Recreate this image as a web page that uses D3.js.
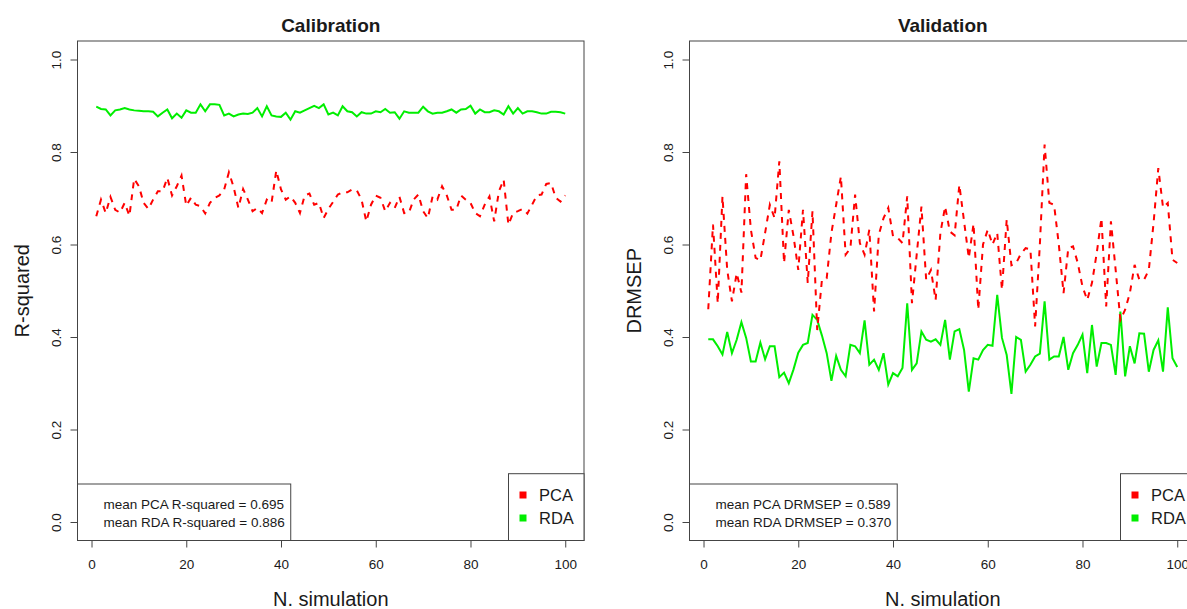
<!DOCTYPE html>
<html>
<head>
<meta charset="utf-8">
<script src="https://cdn.jsdelivr.net/npm/d3@7"></script>
<style>
  body { margin: 0; background: #fff; }
  text { font-family: "Liberation Sans", Arial, sans-serif; fill: #1a1a1a; }
</style>
</head>
<body>
<svg id="chart" width="1187" height="609"></svg>
<script>
// simulation index 1..100
var sims = d3.range(1, 101);

// calibration R-squared
var calPCA = [0.661,0.697,0.668,0.703,0.675,0.669,0.690,0.662,0.742,0.726,
              0.690,0.677,0.697,0.715,0.715,0.744,0.706,0.726,0.749,0.684,
              0.701,0.686,0.683,0.667,0.690,0.701,0.706,0.719,0.756,0.724,
              0.679,0.720,0.697,0.672,0.679,0.668,0.697,0.690,0.760,0.719,
              0.697,0.704,0.690,0.668,0.706,0.710,0.686,0.690,0.657,0.677,
              0.692,0.708,0.713,0.713,0.719,0.717,0.697,0.650,0.686,0.706,
              0.701,0.672,0.690,0.679,0.703,0.668,0.669,0.697,0.708,0.672,
              0.657,0.704,0.697,0.726,0.706,0.675,0.675,0.706,0.697,0.690,
              0.668,0.661,0.686,0.704,0.650,0.715,0.740,0.643,0.668,0.672,
              0.677,0.667,0.686,0.706,0.708,0.731,0.733,0.701,0.693,0.706];
var calRDA = [0.898,0.893,0.892,0.879,0.890,0.892,0.895,0.892,0.890,0.889,
              0.888,0.888,0.887,0.877,0.885,0.892,0.873,0.883,0.874,0.890,
              0.885,0.885,0.903,0.888,0.903,0.903,0.902,0.879,0.883,0.877,
              0.881,0.883,0.882,0.885,0.895,0.877,0.899,0.879,0.877,0.876,
              0.885,0.870,0.888,0.885,0.890,0.895,0.900,0.895,0.903,0.881,
              0.885,0.879,0.899,0.888,0.886,0.877,0.886,0.883,0.883,0.888,
              0.886,0.893,0.885,0.886,0.872,0.888,0.885,0.885,0.885,0.898,
              0.888,0.883,0.885,0.885,0.888,0.892,0.885,0.892,0.893,0.900,
              0.883,0.892,0.886,0.886,0.890,0.888,0.881,0.899,0.883,0.895,
              0.883,0.888,0.888,0.886,0.883,0.883,0.887,0.887,0.886,0.883];

// validation DRMSEP
var valPCA = [0.460,0.643,0.473,0.704,0.545,0.477,0.538,0.496,0.752,0.632,
              0.571,0.566,0.625,0.686,0.657,0.780,0.560,0.675,0.618,0.545,
              0.675,0.517,0.672,0.415,0.524,0.527,0.625,0.686,0.747,0.578,
              0.592,0.708,0.603,0.578,0.632,0.455,0.621,0.657,0.679,0.618,
              0.614,0.603,0.704,0.473,0.578,0.682,0.524,0.545,0.480,0.625,
              0.682,0.628,0.620,0.729,0.650,0.571,0.645,0.459,0.600,0.632,
              0.600,0.625,0.502,0.654,0.555,0.560,0.580,0.592,0.590,0.423,
              0.600,0.816,0.690,0.686,0.600,0.495,0.592,0.596,0.560,0.509,
              0.480,0.517,0.581,0.657,0.466,0.650,0.545,0.437,0.459,0.495,
              0.556,0.524,0.524,0.545,0.646,0.765,0.680,0.690,0.567,0.560];
var valRDA = [0.395,0.395,0.380,0.362,0.411,0.365,0.394,0.432,0.398,0.347,
              0.347,0.388,0.352,0.380,0.380,0.313,0.323,0.300,0.330,0.366,
              0.383,0.387,0.448,0.437,0.403,0.365,0.305,0.359,0.329,0.315,
              0.383,0.380,0.365,0.436,0.340,0.351,0.329,0.365,0.297,0.322,
              0.315,0.333,0.473,0.329,0.343,0.412,0.394,0.390,0.395,0.383,
              0.437,0.351,0.412,0.417,0.372,0.282,0.354,0.351,0.372,0.383,
              0.381,0.491,0.398,0.361,0.277,0.400,0.394,0.325,0.340,0.358,
              0.364,0.477,0.351,0.358,0.358,0.400,0.329,0.365,0.383,0.405,
              0.322,0.426,0.336,0.387,0.387,0.383,0.318,0.455,0.315,0.380,
              0.343,0.408,0.407,0.325,0.372,0.393,0.325,0.464,0.354,0.335];

var xTicks = [0, 20, 40, 60, 80, 100];
var yTicks = [0, 0.2, 0.4, 0.6, 0.8, 1.0];
var seriesNames = ["PCA", "RDA"];
var seriesColors = ["#ff0000", "#00ee00"];

var panels = [
  { title: "Calibration", ylab: "R-squared", pca: calPCA, rda: calRDA, left: 77.5,
    notes: ["mean PCA R-squared = 0.695", "mean RDA R-squared = 0.886"] },
  { title: "Validation", ylab: "DRMSEP", pca: valPCA, rda: valRDA, left: 689.5,
    notes: ["mean PCA DRMSEP = 0.589", "mean RDA DRMSEP = 0.370"] }
];

var dims = { width: 506.5, top: 41, bottom: 540.5 };
var svg = d3.select("#chart");

panels.forEach(function(p) {
  var g = svg.append("g");

  var xScale = d3.scaleLinear()
                 .domain([-2.96, 103.96])
                 .range([p.left, p.left + dims.width]);
  var yScale = d3.scaleLinear()
                 .domain([-0.04, 1.04])
                 .range([dims.bottom, dims.top]);

  var line = d3.line()
               .x((d, i) => xScale(sims[i]))
               .y(d => yScale(d));

  g.append("path")
   .attr("d", line(p.rda))
   .attr("fill", "none")
   .attr("stroke", seriesColors[1])
   .attr("stroke-width", 2);

  g.append("path")
   .attr("d", line(p.pca))
   .attr("fill", "none")
   .attr("stroke", seriesColors[0])
   .attr("stroke-width", 2)
   .attr("stroke-dasharray", "6,6");

  // axes
  var xAxis = g.append("g")
               .attr("transform", `translate(0,${dims.bottom})`)
               .call(d3.axisBottom(xScale).tickValues(xTicks).tickSize(7).tickPadding(12).tickSizeOuter(0));
  var yAxis = g.append("g")
               .attr("transform", `translate(${p.left},0)`)
               .call(d3.axisLeft(yScale).tickValues(yTicks).tickSize(7).tickFormat(d3.format(".1f")).tickSizeOuter(0));

  [xAxis, yAxis].forEach(a => {
    a.select(".domain").remove();
    a.selectAll("line").attr("stroke", "#444");
    a.selectAll("text").style("font-size", "13.5px").attr("fill", "#1a1a1a");
  });
  yAxis.selectAll("text")
       .attr("x", null).attr("dy", null)
       .attr("text-anchor", "middle")
       .attr("transform", "translate(-17,0) rotate(-90)");

  // plot frame
  g.append("rect")
   .attr("x", p.left).attr("y", dims.top)
   .attr("width", dims.width).attr("height", dims.bottom - dims.top)
   .attr("fill", "none").attr("stroke", "#444");

  // titles
  g.append("text")
   .attr("x", p.left + dims.width / 2).attr("y", 32)
   .attr("text-anchor", "middle")
   .style("font-size", "19px").style("font-weight", "bold")
   .text(p.title);
  g.append("text")
   .attr("x", p.left + dims.width / 2).attr("y", 606)
   .attr("text-anchor", "middle")
   .style("font-size", "20px")
   .text("N. simulation");
  g.append("text")
   .attr("transform", `translate(${p.left - 49},${(dims.top + dims.bottom) / 2}) rotate(-90)`)
   .attr("text-anchor", "middle")
   .style("font-size", "20px")
   .text(p.ylab);

  // mean text box
  var noteBox = g.append("rect")
                 .attr("x", p.left).attr("y", 484)
                 .attr("height", dims.bottom - 484)
                 .attr("fill", "#fff").attr("stroke", "#444");
  var noteEnd = 0;
  p.notes.forEach(function(t, i) {
    var tx = g.append("text")
              .attr("x", p.left + 26).attr("y", 509 + i * 18)
              .style("font-size", "13.5px")
              .text(t);
    noteEnd = Math.max(noteEnd, tx.node().getComputedTextLength());
  });
  noteBox.attr("width", 26 + noteEnd + 6);

  // legend
  var lx = p.left + 431;
  g.append("rect")
   .attr("x", lx).attr("y", 473.7)
   .attr("width", 75.5).attr("height", dims.bottom - 473.7)
   .attr("fill", "#fff").attr("stroke", "#444");
  seriesNames.forEach(function(name, i) {
    g.append("rect")
     .attr("x", lx + 11).attr("y", 491.5 + i * 23)
     .attr("width", 7).attr("height", 7)
     .attr("fill", seriesColors[i]);
    g.append("text")
     .attr("x", lx + 30.5).attr("y", 501 + i * 23)
     .style("font-size", "16.5px")
     .text(name);
  });
});
</script>
</body>
</html>
